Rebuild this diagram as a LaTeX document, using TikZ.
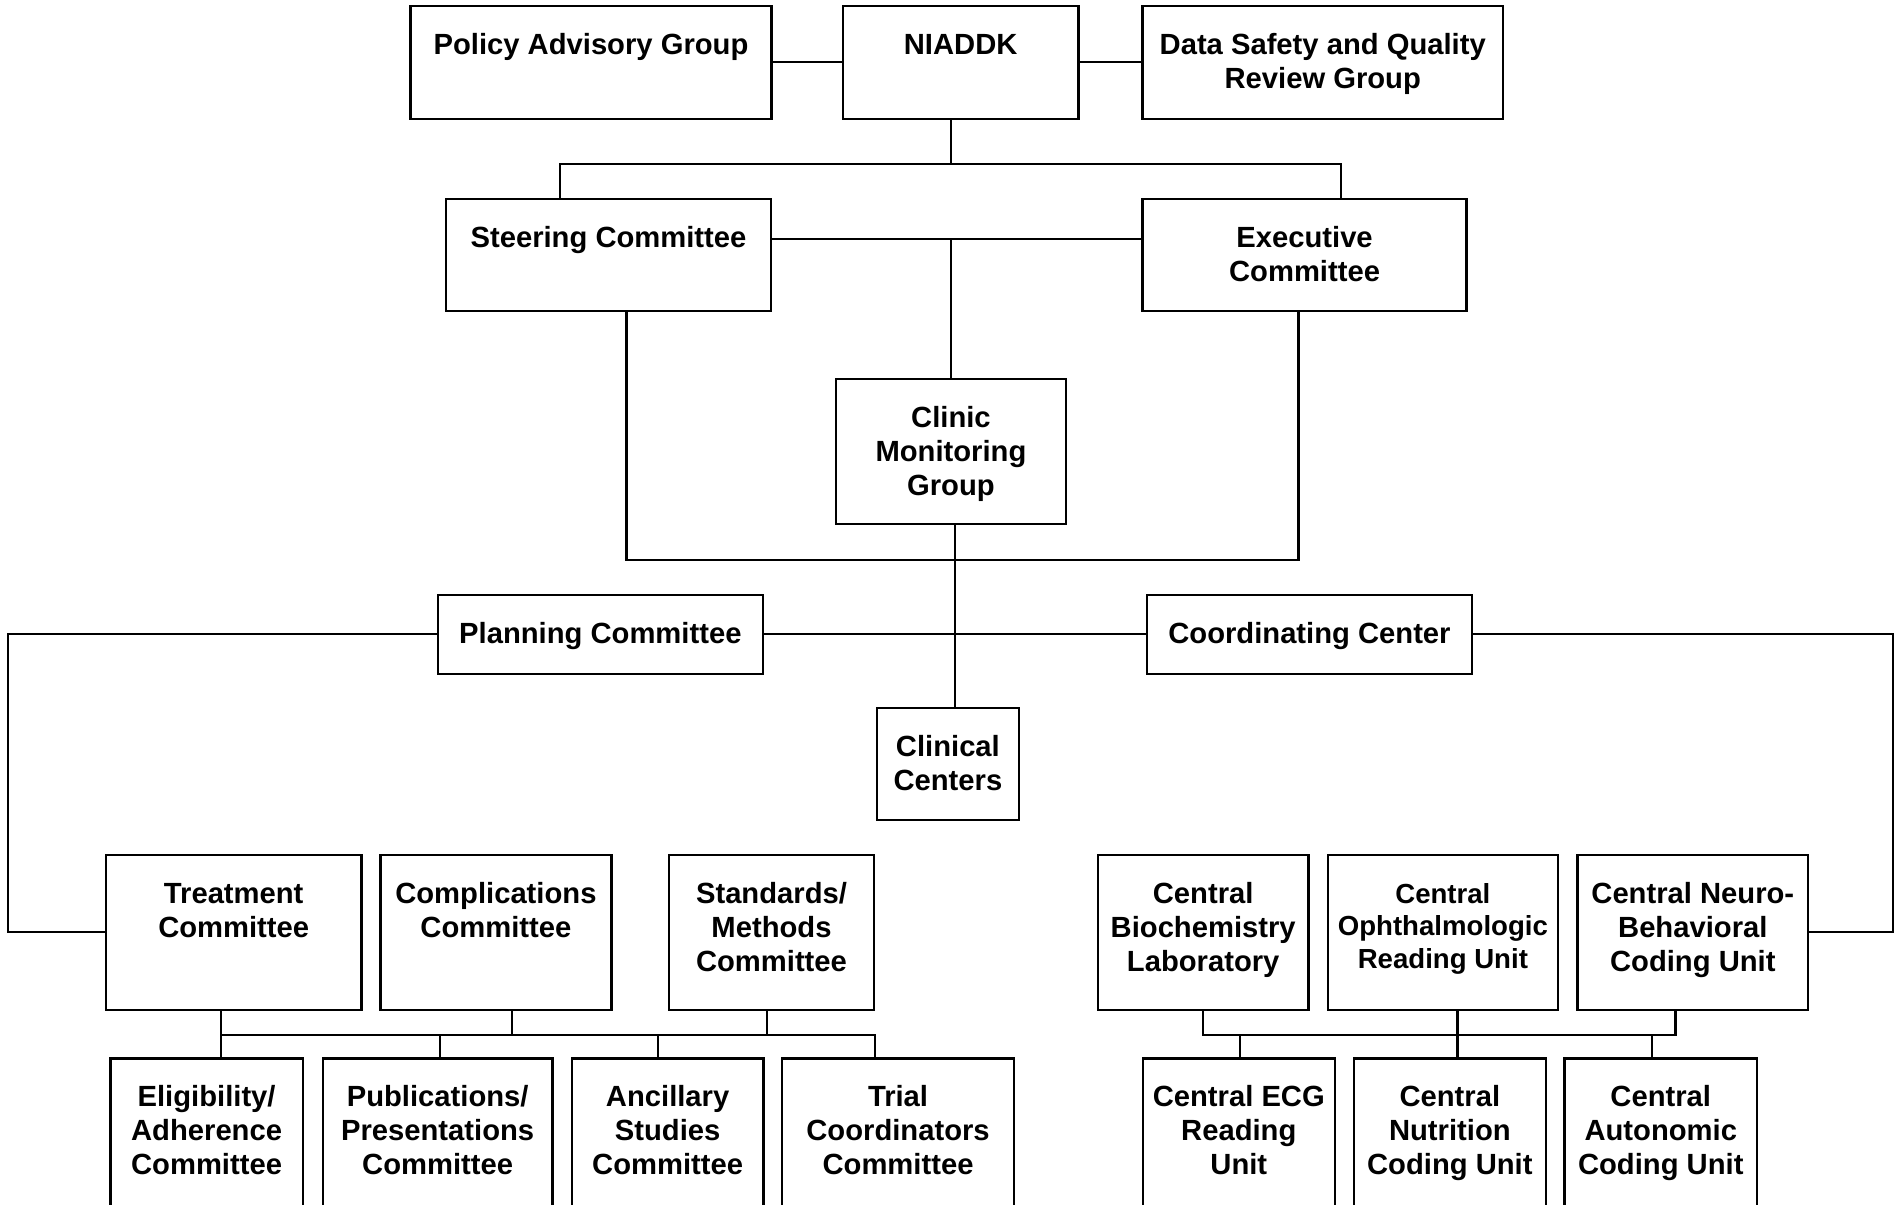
\documentclass[tikz,border=0pt]{standalone}
\usepackage{fontspec}
\setmainfont{Liberation Sans}
\newcommand\lblfont{\fontsize{29.2pt}{34pt}\selectfont\bfseries}
\newcommand\smallerlbl{\fontsize{27.6pt}{32.5pt}\selectfont}
\newcommand\orgbox[6]{%
  \pgfmathsetmacro\obw{#4-#2}%
  \pgfmathsetmacro\obh{#5-#3}%
  \node[box, anchor=north west] (#1) at (#2,#3)
    {\parbox[t][\obh pt][t]{\obw pt}{\centering\lblfont\rule{0pt}{48.5pt}#6\par}};%
}
\begin{document}
\begin{tikzpicture}[x=1pt,y=-1pt,
  box/.style={draw=black, line width=2.4pt, inner sep=0pt, outer sep=0pt, fill=white},
  con/.style={draw=black, line width=2.2pt}]
\useasboundingbox (0,0) rectangle (1902,1204);
\clip (0,0) rectangle (1902,1204);
\fill[white] (0,0) rectangle (1902,1204);

% coordinates for connector bends
\coordinate (t1) at (560,163.7);
\coordinate (t2) at (1341,163.7);
\coordinate (bus1) at (951,163.7);
\coordinate (m1) at (951,238.7);
\coordinate (u1) at (626.4,559.7);
\coordinate (u2) at (1298.5,559.7);
\coordinate (v2) at (954.6,0);
\coordinate (l1) at (7.9,633.7);
\coordinate (l2) at (7.9,932.3);
\coordinate (r1) at (1893,633.7);
\coordinate (r2) at (1893,932.3);
\coordinate (b1) at (221,1035.3);
\coordinate (b2) at (875.2,1035.3);
\coordinate (k1) at (511.6,1035.3);
\coordinate (k2) at (766.8,1035.3);
\coordinate (k3) at (440,1035.3);
\coordinate (k4) at (657.6,1035.3);
\coordinate (c1) at (1203.2,1035.3);
\coordinate (c2) at (1675.4,1035.3);
\coordinate (c3) at (1457.5,1035.3);
\coordinate (c4) at (1239.6,1035.3);
\coordinate (c5) at (1652,1035.3);

% boxes
\orgbox{pag}{410.6}{6}{771.4}{119}{Policy Advisory Group}
\orgbox{nia}{843}{6}{1078.3}{119}{NIADDK}
\orgbox{dsq}{1142.6}{6}{1502.9}{119}{Data Safety and Quality\\Review Group}
\orgbox{sc}{446}{198.7}{771}{311}{Steering Committee}
\orgbox{ec}{1142.6}{198.7}{1466.5}{311}{Executive\\Committee}
\orgbox{cmg}{835.7}{378.7}{1066.2}{523.7}{Clinic\\Monitoring\\Group}
\orgbox{pc}{437.8}{594.7}{762.9}{673.7}{Planning Committee}
\orgbox{cc}{1146.9}{594.7}{1472}{673.7}{Coordinating Center}
\orgbox{clc}{876.9}{707.7}{1018.9}{820}{Clinical\\Centers}
\orgbox{tc}{105.8}{854.7}{361.6}{1009.7}{Treatment\\Committee}
\orgbox{cpc}{380.4}{854.7}{611.4}{1009.7}{Complications\\Committee}
\orgbox{smc}{669}{854.7}{874}{1009.7}{Standards/\\Methods\\Committee}
\orgbox{cbl}{1097.8}{854.7}{1308.6}{1009.7}{Central\\Biochemistry\\Laboratory}
\orgbox{cor}{1327.7}{854.7}{1558}{1009.7}{\smallerlbl Central\\Ophthalmologic\\Reading Unit}
\orgbox{cnb}{1577.6}{854.7}{1808}{1009.7}{Central Neuro-\\Behavioral\\Coding Unit}
\orgbox{eac}{110.5}{1058.3}{302.7}{1240}{Eligibility/\\Adherence\\Committee}
\orgbox{ppc}{322.8}{1058.3}{552.5}{1240}{Publications/\\Presentations\\Committee}
\orgbox{asc}{571.9}{1058.3}{763.4}{1240}{Ancillary\\Studies\\Committee}
\orgbox{tcc}{782.2}{1058.3}{1013.9}{1240}{Trial\\Coordinators\\Committee}
\orgbox{ecg}{1142.9}{1058.3}{1334.7}{1240}{Central ECG\\Reading\\Unit}
\orgbox{ncu}{1353.7}{1058.3}{1546}{1240}{Central\\Nutrition\\Coding Unit}
\orgbox{acu}{1564.6}{1058.3}{1756.9}{1240}{Central\\Autonomic\\Coding Unit}

% connectors
\draw[con] (pag.east |- nia.west) ++(0,-0.8) -- ([yshift=0.8pt]nia.west);
\draw[con] ([yshift=0.8pt]nia.east) -- ([yshift=0.8pt]dsq.west);
\draw[con] (nia.south -| bus1) -- (bus1);
\draw[con] (sc.north -| t1) -- (t1) -- (t2) -- (ec.north -| t2);
\draw[con] (sc.east |- m1) -- (ec.west |- m1);
\draw[con] (m1) -- (cmg.north -| m1);
\draw[con] (sc.south -| u1) -- (u1) -- (u2) -- (ec.south -| u2);
\draw[con] (cmg.south -| v2) -- (clc.north -| v2);
\draw[con] (pc.west |- l1) -- (l1) -- (l2) -- (tc.west |- l2);
\draw[con] (pc.east |- l1) -- (cc.west |- l1);
\draw[con] (cc.east |- r1) -- (r1) -- (r2) -- (cnb.east |- r2);
\draw[con] (tc.south -| b1) -- (b1) -- (b2) -- (tcc.north -| b2);
\draw[con] (cpc.south -| k1) -- (k1);
\draw[con] (smc.south -| k2) -- (k2);
\draw[con] (b1) -- (eac.north -| b1);
\draw[con] (k3) -- (ppc.north -| k3);
\draw[con] (k4) -- (asc.north -| k4);
\draw[con] (cbl.south -| c1) -- (c1) -- (c2) -- (cnb.south -| c2);
\draw[con] (cor.south -| c3) -- (ncu.north -| c3);
\draw[con] (c4) -- (ecg.north -| c4);
\draw[con] (c5) -- (acu.north -| c5);
\end{tikzpicture}
\end{document}
